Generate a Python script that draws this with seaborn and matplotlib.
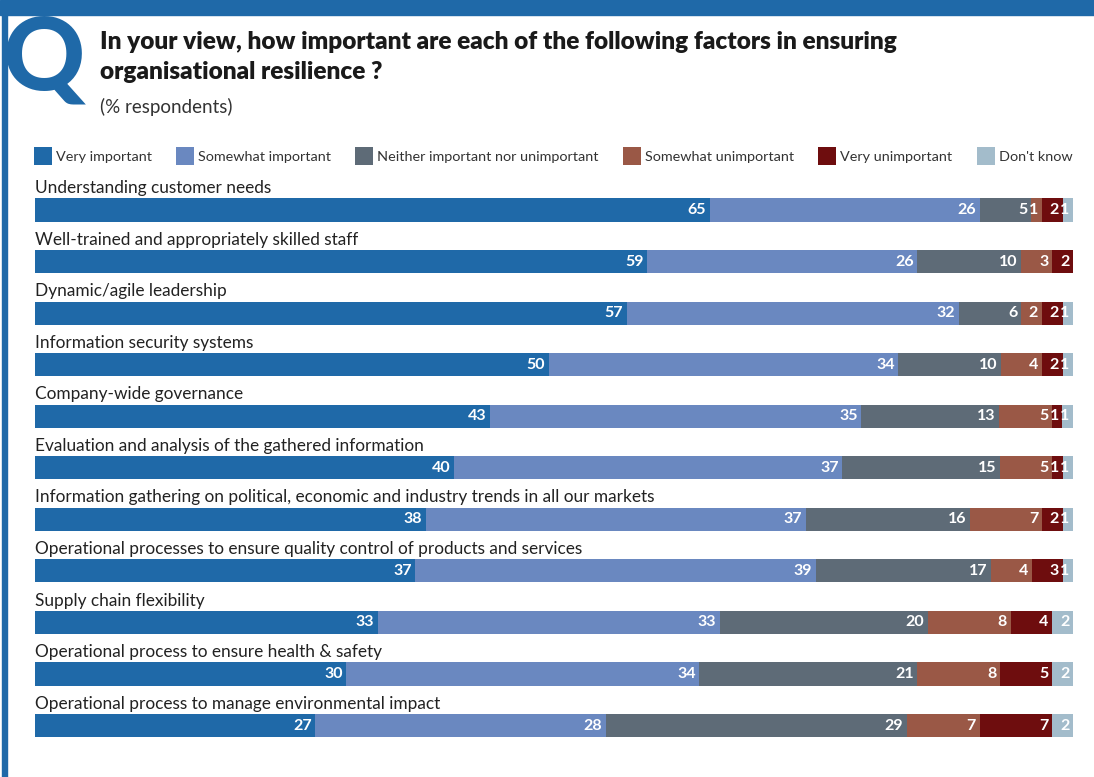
import numpy as np
import pandas as pd
import matplotlib
matplotlib.use("Agg")
import matplotlib.pyplot as plt
import seaborn as sns
from matplotlib.patches import Rectangle
from matplotlib.lines import Line2D

sns.set_theme(style="white")
plt.rcParams['font.family'] = ['Lato', 'DejaVu Sans']

factors = [
    "Understanding customer needs",
    "Well-trained and appropriately skilled staff",
    "Dynamic/agile leadership",
    "Information security systems",
    "Company-wide governance",
    "Evaluation and analysis of the gathered information",
    "Information gathering on political, economic and industry trends in all our markets",
    "Operational processes to ensure quality control of products and services",
    "Supply chain flexibility",
    "Operational process to ensure health & safety",
    "Operational process to manage environmental impact",
]
categories = ["Very important", "Somewhat important", "Neither important nor unimportant",
              "Somewhat unimportant", "Very unimportant", "Don't know"]
very_important = [65, 59, 57, 50, 43, 40, 38, 37, 33, 30, 27]
somewhat_important = [26, 26, 32, 34, 35, 37, 37, 39, 33, 34, 28]
neither = [5, 10, 6, 10, 13, 15, 16, 17, 20, 21, 29]
somewhat_unimportant = [1, 3, 2, 4, 5, 5, 7, 4, 8, 8, 7]
very_unimportant = [2, 2, 2, 2, 1, 1, 2, 3, 4, 5, 7]
dont_know = [1, 0, 1, 1, 1, 1, 1, 1, 2, 2, 2]

colors = ["#1f69a8", "#6a88c0", "#5e6b77", "#9a5846", "#6e0d0e", "#a3bccb"]
blue = "#1f69a8"

vals = np.array([very_important, somewhat_important, neither,
                 somewhat_unimportant, very_unimportant, dont_know], dtype=float).T
# every bar runs the full width, so scale each row to 100
shares = vals / vals.sum(axis=1, keepdims=True) * 100
cum = np.cumsum(shares, axis=1)

W, H = 1094, 777
fig = plt.figure(figsize=(W / 100, H / 100), dpi=100)

def fx(x):
    return x / W

def fy(y):
    return 1 - y / H

# frame: top band, left rule, big Q
fig.patches.append(Rectangle((0, fy(15)), 1, 15 / H, transform=fig.transFigure,
                             color=blue, zorder=3))
fig.patches.append(Rectangle((fx(2), 0), 5 / W, fy(15), transform=fig.transFigure,
                             color=blue, zorder=3))
fig.text(fx(3), fy(90), "Q", fontsize=73, fontweight="black", color=blue,
         va="baseline", ha="left", zorder=2)

title_kw = dict(fontsize=17.6, fontweight="heavy", color="#1a1a1a", va="center")
fig.text(fx(100), fy(42), "In your view, how important are each of the following factors in ensuring",
         **title_kw)
fig.text(fx(100), fy(72), "organisational resilience ?", **title_kw)
fig.text(fx(100), fy(107), "(% respondents)", fontsize=13.5, color="#333333", va="center")

ax = fig.add_axes([fx(35), fy(741), 1038 / W, (741 - 174) / H])

df = pd.DataFrame(cum, columns=categories)
df["factor"] = factors
for k in reversed(range(len(categories))):
    sns.barplot(data=df, x=categories[k], y="factor", orient="h", color=colors[k],
                saturation=1, width=0.45, linewidth=0, ax=ax)

for i in range(len(factors)):
    ax.text(0, i - 0.27, factors[i], fontsize=12.4, color="#222222",
            ha="left", va="bottom")
    for k in range(len(categories)):
        if vals[i, k] > 0:
            ax.text(cum[i, k] - 0.35, i, f"{int(vals[i, k])}", fontsize=11.5,
                    fontweight="bold", color="white", ha="right", va="center")

ax.set_xlim(0, 100)
ax.set_ylim(10.3, -0.7)
ax.axis("off")

handles = [Line2D([], [], marker="s", linestyle="none", markersize=13, color=c,
                  markeredgewidth=0) for c in colors]
fig.legend(handles, categories, loc="center left", bbox_to_anchor=(fx(35), fy(157)),
           ncol=6, frameon=False, fontsize=10.4, handlelength=1.1,
           handletextpad=0.35, columnspacing=1.75, borderpad=0, borderaxespad=0,
           labelcolor="#333333")

fig.savefig("out.png", dpi=100)
